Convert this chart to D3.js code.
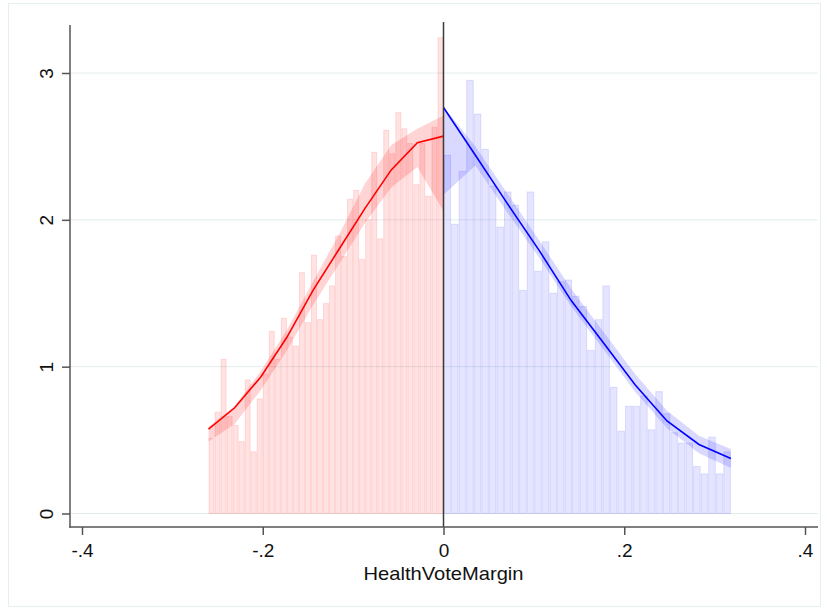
<!DOCTYPE html>
<html>
<head>
<meta charset="utf-8">
<script src="https://cdn.jsdelivr.net/npm/d3@7/dist/d3.min.js"></script>
<style>
  html, body { margin: 0; padding: 0; background: #ffffff; }
  svg { display: block; font-family: "Liberation Sans", Arial, sans-serif; }
</style>
</head>
<body>
<svg id="chart" width="827" height="608"></svg>
<script>
// Histogram densities left of the cutoff (HealthVoteMargin < 0)
const leftRange = [-0.26, 0];
const leftDensity = [
  0.51, 0.69, 1.05, 0.66, 0.60, 0.49, 0.91, 0.42, 0.78, 0.95,
  1.24, 1.05, 1.33, 1.20, 1.14, 1.64, 1.30, 1.76, 1.32, 1.43,
  1.55, 1.89, 1.75, 2.14, 2.20, 1.73, 2.00, 2.46, 1.87, 2.61,
  2.45, 2.73, 2.62, 2.52, 2.24, 2.52, 2.16, 2.63, 3.24
];

// Histogram densities right of the cutoff (HealthVoteMargin >= 0)
const rightRange = [0, 0.318];
const rightDensity = [
  2.44, 1.97, 2.33, 2.95, 2.72, 2.48, 2.23, 1.95, 2.19, 2.10,
  1.52, 2.19, 1.65, 1.85, 1.50, 1.58, 1.59, 1.48, 1.41, 1.11,
  1.32, 1.55, 0.86, 0.56, 0.73, 0.73, 0.80, 0.57, 0.83, 0.68,
  0.55, 0.48, 0.48, 0.32, 0.27, 0.52, 0.27, 0.42
];

// Local polynomial density estimate with confidence band, left side
const leftGrid = [-0.26, -0.2311, -0.2022, -0.1733, -0.1444, -0.1156, -0.0867, -0.0578, -0.0289, 0];
const leftFit  = [0.575, 0.72, 0.93, 1.20, 1.52, 1.80, 2.08, 2.34, 2.525, 2.57];
const leftLo   = [0.49, 0.61, 0.84, 1.11, 1.42, 1.70, 1.98, 2.22, 2.36, 2.06];
const leftHi   = [0.59, 0.73, 0.97, 1.25, 1.58, 1.90, 2.25, 2.51, 2.62, 2.71];

// Local polynomial density estimate with confidence band, right side
const rightGrid = [0, 0.0353, 0.0707, 0.106, 0.1413, 0.1767, 0.212, 0.2473, 0.2827, 0.318];
const rightFit  = [2.765, 2.44, 2.11, 1.79, 1.45, 1.165, 0.877, 0.63, 0.47, 0.375];
const rightLo   = [2.17, 2.37, 2.05, 1.74, 1.41, 1.12, 0.83, 0.58, 0.41, 0.31];
const rightHi   = [2.77, 2.50, 2.18, 1.86, 1.53, 1.24, 0.95, 0.70, 0.53, 0.44];

// Axis ticks
const xTicks = [-0.4, -0.2, 0, 0.2, 0.4];
const xTickLabels = ["-.4", "-.2", "0", ".2", ".4"];
const yTicks = [0, 1, 2, 3];
const yTickLabels = ["0", "1", "2", "3"];
const xTitle = "HealthVoteMargin";

const svg = d3.select("#chart");
const plot = { left: 70, right: 818, top: 25, bottom: 527 };

const x = d3.scaleLinear().domain([-0.4, 0.4]).range([82, 805]);
const y = d3.scaleLinear().domain([0, 3]).range([513.5, 73]);

// outer graph frame
svg.append("rect")
  .attr("x", 8.5).attr("y", 3.5)
  .attr("width", 812).attr("height", 603)
  .attr("fill", "#ffffff")
  .attr("stroke", "#e6eff0").attr("stroke-width", 1);

// horizontal gridlines
svg.append("g").selectAll("line").data(yTicks).join("line")
  .attr("x1", plot.left).attr("x2", plot.right)
  .attr("y1", d => y(d)).attr("y2", d => y(d))
  .attr("stroke", "#e4eced").attr("stroke-width", 1);

// histogram bars
function drawBars(values, range, fill, stroke) {
  const w = (range[1] - range[0]) / values.length;
  svg.append("g").selectAll("rect").data(values).join("rect")
    .attr("x", (d, i) => x(range[0] + i * w) + 0.5)
    .attr("width", (d, i) => x(range[0] + (i + 1) * w) - x(range[0] + i * w) - 1)
    .attr("y", d => y(d))
    .attr("height", d => y(0) - y(d))
    .attr("fill", fill)
    .attr("stroke", stroke)
    .attr("stroke-width", 1);
}
drawBars(leftDensity, leftRange, "rgba(255,0,0,0.11)", "rgba(255,0,0,0.12)");
drawBars(rightDensity, rightRange, "rgba(0,0,255,0.10)", "rgba(0,0,255,0.11)");

// confidence bands
function drawBand(grid, lo, hi, fill) {
  const rows = grid.map((g, i) => ({ g, lo: lo[i], hi: hi[i] }));
  svg.append("path")
    .datum(rows)
    .attr("d", d3.area().x(d => x(d.g)).y0(d => y(d.lo)).y1(d => y(d.hi)))
    .attr("fill", fill);
}
drawBand(leftGrid, leftLo, leftHi, "rgba(255,0,0,0.17)");
drawBand(rightGrid, rightLo, rightHi, "rgba(0,0,255,0.15)");

// fitted densities
function drawFit(grid, fit, color) {
  const rows = grid.map((g, i) => ({ g, v: fit[i] }));
  svg.append("path")
    .datum(rows)
    .attr("d", d3.line().x(d => x(d.g)).y(d => y(d.v)))
    .attr("fill", "none")
    .attr("stroke", color)
    .attr("stroke-width", 1.6);
}
drawFit(leftGrid, leftFit, "#ff0000");
drawFit(rightGrid, rightFit, "#0000ff");

// cutoff line
svg.append("line")
  .attr("x1", x(0)).attr("x2", x(0))
  .attr("y1", plot.top - 3).attr("y2", plot.bottom)
  .attr("stroke", "#3c3c3c").attr("stroke-width", 1.5);

// x axis
const xAxis = svg.append("g")
  .attr("transform", `translate(0,${plot.bottom})`)
  .call(d3.axisBottom(x).tickValues(xTicks)
    .tickFormat((d, i) => xTickLabels[i])
    .tickSize(8).tickSizeOuter(0).tickPadding(9));
xAxis.select(".domain").remove();
xAxis.selectAll(".tick line").attr("stroke", "#555555").attr("stroke-width", 1.5);
xAxis.selectAll(".tick text")
  .attr("fill", "#111111").attr("font-size", 19)
  .attr("font-family", "'Liberation Sans', Arial, sans-serif");
svg.append("line")
  .attr("x1", plot.left - 0.75).attr("x2", plot.right)
  .attr("y1", plot.bottom).attr("y2", plot.bottom)
  .attr("stroke", "#555555").attr("stroke-width", 1.5);

// y axis with rotated labels
const yAxis = svg.append("g")
  .attr("transform", `translate(${plot.left},0)`)
  .call(d3.axisLeft(y).tickValues(yTicks)
    .tickFormat((d, i) => yTickLabels[i])
    .tickSize(8).tickSizeOuter(0));
yAxis.select(".domain").remove();
yAxis.selectAll(".tick line").attr("stroke", "#555555").attr("stroke-width", 1.5);
yAxis.selectAll(".tick text")
  .attr("x", null).attr("dy", null)
  .attr("transform", "translate(-17,0) rotate(-90)")
  .attr("text-anchor", "middle")
  .attr("fill", "#111111").attr("font-size", 19)
  .attr("font-family", "'Liberation Sans', Arial, sans-serif");
svg.append("line")
  .attr("x1", plot.left).attr("x2", plot.left)
  .attr("y1", plot.top).attr("y2", plot.bottom + 0.75)
  .attr("stroke", "#555555").attr("stroke-width", 1.5);

// axis title
svg.append("text")
  .attr("x", x(0)).attr("y", 580)
  .attr("text-anchor", "middle")
  .attr("font-size", 18.5)
  .attr("textLength", 160).attr("lengthAdjust", "spacingAndGlyphs")
  .attr("fill", "#111111")
  .text(xTitle);
</script>
</body>
</html>
